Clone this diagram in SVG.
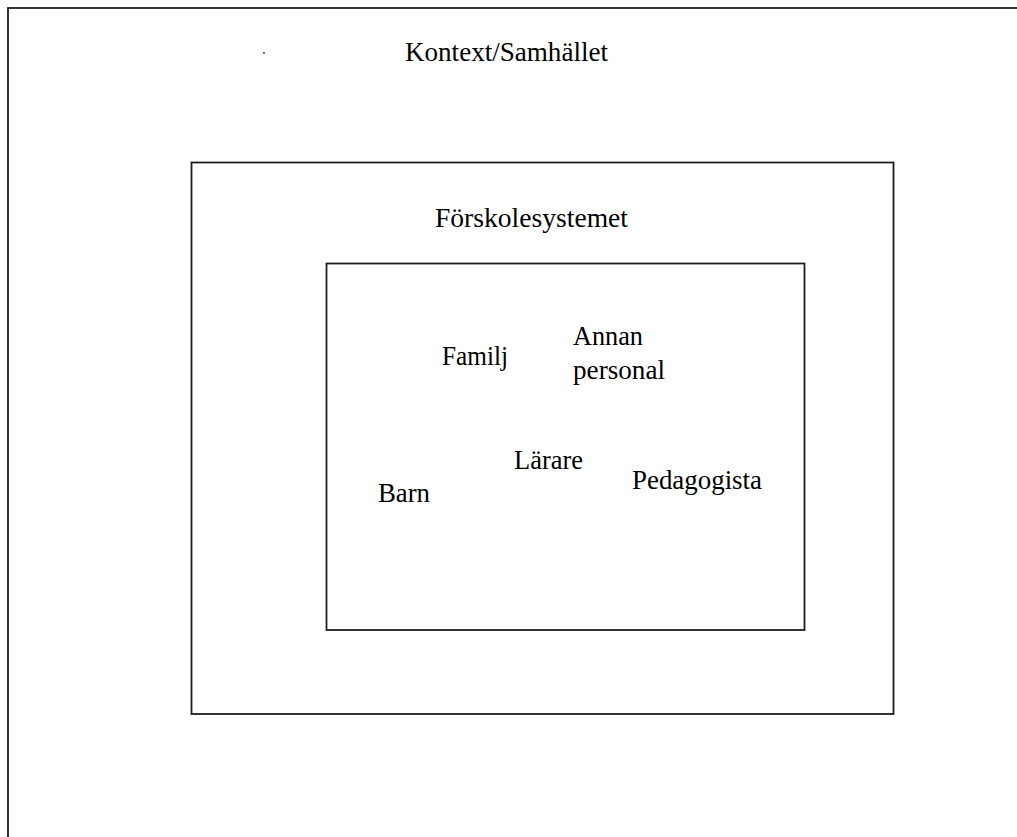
<svg xmlns="http://www.w3.org/2000/svg" width="1017" height="837" viewBox="0 0 1017 837">
<style>
.box{fill:none;stroke:#1e1e1e;stroke-width:1.8}
.t{font-family:"Liberation Serif","Times New Roman",serif;font-size:27px;fill:#000}
</style>
<rect width="1017" height="837" fill="#fff"/>
<g id="kontext">
<rect class="box" x="8" y="8" width="1030" height="850"/>
<circle cx="264" cy="53" r="0.9" fill="#333"/>
<text class="t" x="405" y="61" textLength="203" lengthAdjust="spacingAndGlyphs">Kontext/Samhället</text>
</g>
<g id="forskolesystemet">
<rect class="box" x="191.5" y="162.5" width="702" height="551.5"/>
<text class="t" x="435" y="227" textLength="193" lengthAdjust="spacingAndGlyphs">Förskolesystemet</text>
</g>
<g id="inner">
<rect class="box" x="326.5" y="263.5" width="478" height="366.5"/>
</g>
<g id="familj"><text class="t" x="442" y="365" textLength="66" lengthAdjust="spacingAndGlyphs">Familj</text></g>
<g id="annan"><text class="t" x="573" y="345" textLength="70" lengthAdjust="spacingAndGlyphs">Annan</text><text class="t" x="573" y="379" textLength="92" lengthAdjust="spacingAndGlyphs">personal</text></g>
<g id="larare"><text class="t" x="514" y="469" textLength="69" lengthAdjust="spacingAndGlyphs">Lärare</text></g>
<g id="pedagogista"><text class="t" x="632" y="489" textLength="130" lengthAdjust="spacingAndGlyphs">Pedagogista</text></g>
<g id="barn"><text class="t" x="378" y="502" textLength="52" lengthAdjust="spacingAndGlyphs">Barn</text></g>
<g id="connectors"/>
</svg>
